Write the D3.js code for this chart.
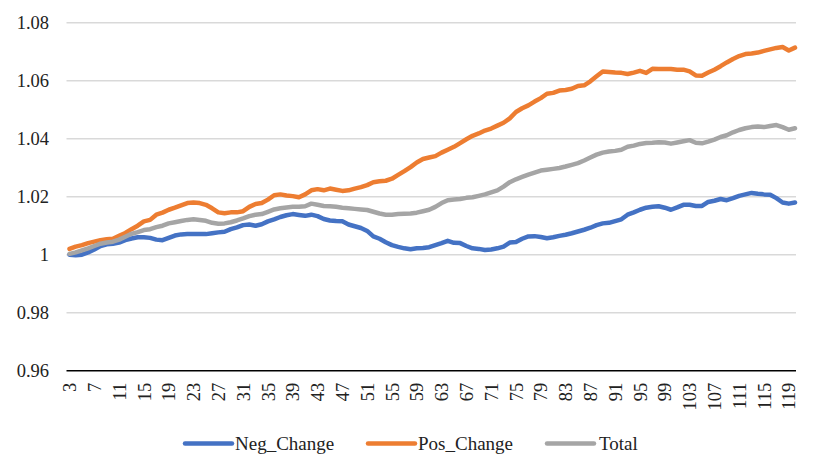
<!DOCTYPE html>
<html><head><meta charset="utf-8">
<script src="https://cdn.jsdelivr.net/npm/d3@7"></script>
<style>html,body{margin:0;padding:0;background:#fff;}svg{display:block;}
svg text{font-family:"Liberation Serif","Tinos","Noto Serif","Nimbus Roman","Nimbus Roman No9 L","FreeSerif","Times","DejaVu Serif","Noto Serif CJK SC",serif !important;}</style>
</head><body>
<svg id="chart" width="813" height="468"></svg>
<script>
const categories = d3.range(3, 121);
const xTickLabels = d3.range(3, 120, 4);
const yTicks = [0.96, 0.98, 1, 1.02, 1.04, 1.06, 1.08];
const seriesNames = ["Neg_Change", "Pos_Change", "Total"];
const seriesColors = ["#4472C4", "#ED7D31", "#A5A5A5"];

const negChange = [
1.0000,0.9998,1.0000,1.0008,1.0018,1.0030,1.0036,1.0038,1.0042,1.0050,
1.0056,1.0060,1.0060,1.0058,1.0052,1.0050,1.0058,1.0066,1.0070,1.0071,
1.0071,1.0071,1.0071,1.0074,1.0077,1.0079,1.0088,1.0094,1.0102,1.0104,
1.0100,1.0105,1.0115,1.0122,1.0130,1.0136,1.0140,1.0137,1.0134,1.0138,
1.0133,1.0123,1.0118,1.0116,1.0115,1.0104,1.0098,1.0092,1.0082,1.0063,
1.0055,1.0043,1.0033,1.0027,1.0022,1.0019,1.0022,1.0023,1.0026,1.0033,
1.0040,1.0048,1.0041,1.0040,1.0030,1.0022,1.0020,1.0016,1.0018,1.0022,
1.0028,1.0042,1.0044,1.0055,1.0063,1.0064,1.0061,1.0057,1.0060,1.0065,
1.0069,1.0074,1.0080,1.0086,1.0093,1.0102,1.0108,1.0110,1.0116,1.0122,
1.0138,1.0146,1.0155,1.0162,1.0165,1.0167,1.0162,1.0155,1.0163,1.0172,
1.0172,1.0168,1.0168,1.0182,1.0186,1.0192,1.0188,1.0195,1.0203,1.0208,
1.0213,1.0210,1.0208,1.0207,1.0195,1.0180,1.0176,1.0180];

const posChange = [
1.0020,1.0028,1.0033,1.0040,1.0045,1.0050,1.0053,1.0055,1.0065,1.0075,
1.0088,1.0100,1.0115,1.0120,1.0138,1.0145,1.0155,1.0162,1.0170,1.0178,
1.0180,1.0178,1.0172,1.0160,1.0146,1.0143,1.0146,1.0146,1.0150,1.0165,
1.0175,1.0178,1.0190,1.0205,1.0208,1.0204,1.0202,1.0198,1.0208,1.0222,
1.0226,1.0222,1.0228,1.0224,1.0220,1.0222,1.0228,1.0233,1.0240,1.0250,
1.0253,1.0255,1.0262,1.0275,1.0288,1.0302,1.0318,1.0330,1.0335,1.0340,
1.0352,1.0362,1.0372,1.0385,1.0398,1.0410,1.0418,1.0428,1.0435,1.0445,
1.0455,1.0470,1.0492,1.0505,1.0515,1.0528,1.0540,1.0555,1.0558,1.0566,
1.0568,1.0572,1.0582,1.0584,1.0598,1.0615,1.0632,1.0630,1.0628,1.0627,
1.0623,1.0628,1.0634,1.0627,1.0641,1.0640,1.0640,1.0640,1.0638,1.0638,
1.0632,1.0618,1.0617,1.0628,1.0638,1.0650,1.0663,1.0675,1.0685,1.0692,
1.0694,1.0697,1.0703,1.0708,1.0713,1.0716,1.0704,1.0714];

const total = [
1.0003,1.0008,1.0015,1.0022,1.0030,1.0038,1.0042,1.0045,1.0052,1.0062,
1.0072,1.0078,1.0085,1.0088,1.0095,1.0100,1.0108,1.0112,1.0116,1.0120,
1.0122,1.0120,1.0117,1.0110,1.0107,1.0108,1.0112,1.0118,1.0125,1.0133,
1.0138,1.0140,1.0148,1.0156,1.0160,1.0163,1.0165,1.0165,1.0167,1.0176,
1.0172,1.0168,1.0167,1.0165,1.0162,1.0160,1.0158,1.0156,1.0154,1.0148,
1.0142,1.0138,1.0138,1.0140,1.0141,1.0142,1.0145,1.0150,1.0155,1.0165,
1.0178,1.0188,1.0190,1.0192,1.0196,1.0198,1.0203,1.0208,1.0215,1.0222,
1.0235,1.0250,1.0260,1.0268,1.0276,1.0283,1.0290,1.0293,1.0296,1.0299,
1.0304,1.0310,1.0316,1.0325,1.0335,1.0345,1.0352,1.0356,1.0358,1.0362,
1.0372,1.0376,1.0382,1.0385,1.0386,1.0388,1.0387,1.0383,1.0387,1.0391,
1.0395,1.0386,1.0384,1.0390,1.0397,1.0406,1.0412,1.0422,1.0430,1.0436,
1.0440,1.0442,1.0440,1.0444,1.0447,1.0440,1.0431,1.0436];

const seriesValues = [negChange, posChange, total];

const svg = d3.select("#chart");
const plotLeft = 66.5, plotRight = 796;

const x = d3.scalePoint().domain(categories).range([69.5, 795]);
const y = d3.scaleLinear().domain([0.96, 1.08]).range([370.7, 22.7]);

// gridlines
svg.append("g").selectAll("line").data(yTicks.filter(t => t !== 0.96)).join("line")
  .attr("x1", plotLeft).attr("x2", plotRight)
  .attr("y1", d => y(d)).attr("y2", d => y(d))
  .attr("stroke", "#d9d9d9").attr("stroke-width", 1.5);

// y labels
const yAxis = d3.axisLeft(y).tickValues(yTicks).tickSize(0).tickPadding(0)
  .tickFormat(d => d3.format("")(+d.toFixed(2)));
const gy = svg.append("g").attr("transform", `translate(49,0)`).call(yAxis);
gy.select(".domain").remove();
gy.attr("font-family", null);
gy.selectAll("text").style("font-size", "18.5px").attr("fill", "#222").attr("dy", "0.34em");

// x axis
const xAxis = d3.axisBottom(x).tickValues(xTickLabels).tickSize(0).tickPadding(0);
const gx = svg.append("g").attr("transform", `translate(0,${y(0.96)})`).call(xAxis);
gx.select(".domain").remove();
gx.attr("font-family", null);
gx.selectAll("text")
  .style("font-size", "18.5px").attr("fill", "#222")
  .attr("text-anchor", "end").attr("transform", "translate(0,12) rotate(-90)")
  .attr("x", 0).attr("y", 0).attr("dy", "0.33em");
svg.append("line").attr("x1", plotLeft).attr("x2", plotRight)
  .attr("y1", y(0.96)).attr("y2", y(0.96)).attr("stroke", "#000").attr("stroke-width", 1.6);

// lines
const line = d3.line().x((d, i) => x(categories[i])).y(d => y(d)).curve(d3.curveLinear);
seriesValues.forEach((vals, k) => {
  svg.append("path").datum(vals).attr("d", line)
    .attr("fill", "none").attr("stroke", seriesColors[k]).attr("stroke-width", 4.5)
    .attr("stroke-linejoin", "round").attr("stroke-linecap", "round");
});

// legend
const legendX = [185, 368, 547];
const legendTextX = [235, 418, 599];
const ly = 443.5;
seriesNames.forEach((name, k) => {
  svg.append("line").attr("x1", legendX[k]).attr("x2", legendX[k] + 47)
    .attr("y1", ly).attr("y2", ly).attr("stroke", seriesColors[k]).attr("stroke-width", 4.5)
    .attr("stroke-linecap", "round");
  svg.append("text").attr("x", legendTextX[k]).attr("y", ly).attr("dy", "0.32em")
    .style("font-size", "19px").attr("fill", "#222").text(name);
});
</script>
</body></html>
